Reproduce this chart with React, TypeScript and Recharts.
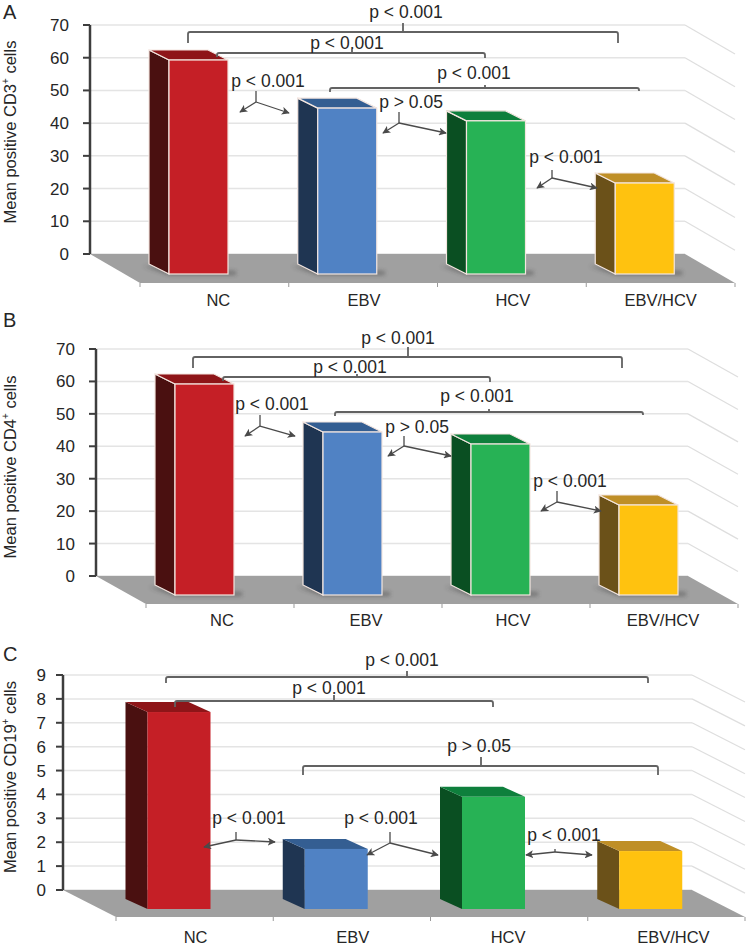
import React from "react";
import { BarChart, Bar, XAxis, YAxis, CartesianGrid } from "recharts";

const categories = ["NC", "EBV", "HCV", "EBV/HCV"];
const cd3Values = [59.3, 44.6, 40.7, 21.7];
const cd4Values = [59.2, 44.4, 40.7, 21.9];
const cd19Values = [7.45, 1.72, 3.9, 1.63];
const ticks70 = [0, 10, 20, 30, 40, 50, 60, 70];
const ticks9 = [0, 1, 2, 3, 4, 5, 6, 7, 8, 9];

const frontColors = ["#C51F26", "#5082C4", "#27B255", "#FFC20F"];
const sideColors = ["#4A1010", "#1F3552", "#0A4F22", "#6B5119"];
const topColors = ["#8E1518", "#345E92", "#0E7F3C", "#BF8F27"];

const FONT = "'Liberation Sans', Arial, sans-serif";
const TEXT = "#262626";
const LINE = "#626262";

const panels = [
  {
    id: "A", letterY: 12, cellName: "CD3", labelX: 10, labelY: 132,
    values: cd3Values, ticks: ticks70, max: 70,
    axisX: 90, wallRight: 685, yTop: 25, yZero: 254,
    floorDx: 50, floorDy: 29, barDx: 20, barDy: 10, barDrop: 20, barShift: 34, barW: 59,
    labelDx: 52, labelNudge: [2, -1, -1, -2], labelRow: 300, tickMargin: 14, edge: "#f4e6e0", shadow: true,
  },
  {
    id: "B", letterY: 320, cellName: "CD4", labelX: 10, labelY: 467,
    values: cd4Values, ticks: ticks70, max: 70,
    axisX: 96, wallRight: 688, yTop: 349, yZero: 576,
    floorDx: 50, floorDy: 28, barDx: 20, barDy: 10, barDrop: 19, barShift: 34, barW: 59,
    labelDx: 52, labelNudge: [0, -4, -5, -3], labelRow: 620, tickMargin: 14, edge: "#f4e6e0", shadow: true,
  },
  {
    id: "C", letterY: 654, cellName: "CD19", labelX: 10, labelY: 777,
    values: cd19Values, ticks: ticks9, max: 9,
    axisX: 63, wallRight: 692, yTop: 675, yZero: 890,
    floorDx: 53, floorDy: 27, barDx: 22, barDy: 10, barDrop: 19, barShift: 37.5, barW: 63,
    labelDx: 53, labelNudge: [1, 1, -1, 7], labelRow: 937, tickMargin: 10, edge: null, shadow: false,
  },
];

// brackets: [text, textX, textY, x1, x2, y, midX, midUp, dropLeft, dropRight]
const brackets = [
  ["p < 0.001", 406, 12, 188, 618, 32, 403, 9, 11, 11],
  ["p < 0.001", 347, 43, 217, 485, 53, 352, 4, 4, 5],
  ["p < 0.001", 474, 73, 330, 639, 88, 485, 3, 4, 3],
  ["p < 0.001", 398, 338, 193, 622, 357, 408, 10, 11, 11],
  ["p < 0.001", 350, 367, 223, 490, 377, 357, 3, 4, 5],
  ["p < 0.001", 477, 396, 335, 643, 412, 489, 3, 4, 3],
  ["p < 0.001", 402, 660, 166, 648, 677, 407, 6, 6, 6],
  ["p < 0.001", 329, 688, 175, 493, 701, 334, 6, 6, 6],
  ["p > 0.05", 479, 746, 303, 658, 766, 481, 9, 9, 9],
];

// forks: [text, textX, textY, tailX, tailTop, tailBottom, leftX, leftY, rightX, rightY]
const forks = [
  ["p < 0.001", 268, 81, 256, 91, 102, 240, 112, 289, 113],
  ["p > 0.05", 411, 102, 399, 112, 123, 383, 133, 446, 133],
  ["p < 0.001", 566, 157, 552, 170, 178, 537, 188, 597, 188],
  ["p < 0.001", 272, 404, 260, 415, 426, 245, 436, 295, 436],
  ["p > 0.05", 417, 427, 404, 436, 446, 388, 456, 451, 456],
  ["p < 0.001", 570, 481, 557, 491, 502, 541, 511, 601, 511],
  ["p < 0.001", 249, 818, 236, 832, 840, 204, 847, 275, 842],
  ["p < 0.001", 381, 818, 390, 832, 843, 367, 855, 438, 855],
  ["p < 0.001", 564, 835, 555, 849, 852, 526, 855, 592, 855],
];

type Panel = (typeof panels)[number];

function Backdrop({ p }: { p: Panel }) {
  const bandW = (p.wallRight - p.axisX) / categories.length;
  const frontY = p.yZero + p.floorDy;
  const span = p.yZero - p.yTop;
  return (
    <g>
      <defs>
        <filter id={`blur${p.id}`} x="-30%" y="-100%" width="160%" height="300%">
          <feGaussianBlur stdDeviation="2" />
        </filter>
      </defs>
      {p.ticks.filter((t) => t > 0).map((t) => {
        const y = p.yZero - (t / p.max) * span;
        return (
          <line key={t} x1={p.wallRight} y1={y} x2={p.wallRight + p.floorDx} y2={y + p.floorDy} stroke="#dedede" strokeWidth={1.2} />
        );
      })}
      <polygon
        points={`${p.axisX},${p.yZero} ${p.wallRight},${p.yZero} ${p.wallRight + p.floorDx},${frontY} ${p.axisX + p.floorDx},${frontY}`}
        fill="#a0a0a0"
      />
      {[0, 1, 2, 3, 4].map((i) => {
        const x = p.axisX + p.floorDx + i * bandW;
        return <line key={i} x1={x} y1={frontY} x2={x} y2={frontY + 4} stroke="#999" strokeWidth={1} />;
      })}
    </g>
  );
}

function bar3d(p: Panel) {
  return function Bar3d(props: any) {
    const { x, y, width, height, index } = props;
    const left = x + p.barShift;
    const bottom = y + height + p.barDrop;
    const dx = p.barDx;
    const dy = p.barDy;
    const stroke = p.edge ?? "none";
    const sw = p.edge ? 1.2 : 0;
    return (
      <g>
        {p.shadow && (
          <polygon
            points={`${left - dx - 6},${bottom - dy + 2} ${left},${bottom + 1} ${left + width + 8},${bottom + 1} ${left + width + 8},${bottom - 3} ${left + width},${bottom - 3}`}
            fill="#2a2a2a"
            opacity={0.4}
            filter={`url(#blur${p.id})`}
          />
        )}
        <polygon
          points={`${left - dx},${y - dy} ${left},${y} ${left},${bottom} ${left - dx},${bottom - dy}`}
          fill={sideColors[index]}
          stroke={stroke}
          strokeWidth={sw}
        />
        <polygon
          points={`${left - dx},${y - dy} ${left + width - dx},${y - dy} ${left + width},${y} ${left},${y}`}
          fill={topColors[index]}
          stroke={stroke}
          strokeWidth={sw}
        />
        <rect x={left} y={y} width={width} height={bottom - y} fill={frontColors[index]} stroke={stroke} strokeWidth={sw} />
      </g>
    );
  };
}

function categoryTick(p: Panel) {
  return function CategoryTick({ x, payload, index }: any) {
    return (
      <text x={x + p.labelDx + p.labelNudge[index]} y={p.labelRow} textAnchor="middle" dominantBaseline="central" fontFamily={FONT} fontSize={16.5} fill={TEXT}>
        {payload.value}
      </text>
    );
  };
}

function PanelChart({ p }: { p: Panel }) {
  const rows = categories.map((name, i) => ({ name, value: p.values[i] }));
  return (
    <div style={{ position: "absolute", left: 0, top: 0 }}>
      <BarChart
        width={750}
        height={945}
        data={rows}
        margin={{ top: p.yTop, right: 750 - p.wallRight, bottom: 0, left: 0 }}
      >
        <Backdrop p={p} />
        <CartesianGrid horizontal vertical={false} stroke="#e4e4e4" strokeWidth={1.5} />
        <XAxis
          dataKey="name"
          height={945 - p.yZero}
          axisLine={false}
          tickLine={false}
          interval={0}
          tick={categoryTick(p)}
        />
        <YAxis
          width={p.axisX}
          domain={[0, p.max]}
          ticks={p.ticks}
          interval={0}
          tickSize={7}
          tickMargin={p.tickMargin}
          axisLine={{ stroke: "#3d3d3d", strokeWidth: 2.5 }}
          tickLine={{ stroke: "#3d3d3d", strokeWidth: 2 }}
          tick={{ fontFamily: FONT, fontSize: 17, fill: TEXT }}
        />
        <Bar dataKey="value" barSize={p.barW} shape={bar3d(p)} isAnimationActive={false} />
      </BarChart>
    </div>
  );
}

function PText({ x, y, children }: any) {
  return (
    <text x={x} y={y} textAnchor="middle" dominantBaseline="central" fontFamily={FONT} fontSize={17.5} fill={TEXT}>
      {children}
    </text>
  );
}

function Annotations() {
  return (
    <svg width={750} height={945} style={{ position: "absolute", left: 0, top: 0 }}>
      <defs>
        <marker id="head" viewBox="0 0 10 10" refX="9" refY="5" markerWidth="8" markerHeight="8" orient="auto-start-reverse" markerUnits="userSpaceOnUse">
          <path d="M0 0 L10 5 L0 10 L2.5 5 Z" fill="#4a4a4a" />
        </marker>
      </defs>
      {panels.map((p) => (
        <g key={p.id}>
          <text x={3} y={p.letterY} dominantBaseline="central" fontFamily={FONT} fontSize={20} fill={TEXT}>
            {p.id}
          </text>
          <text
            transform={`translate(${p.labelX},${p.labelY}) rotate(-90)`}
            textAnchor="middle"
            dominantBaseline="central"
            fontFamily={FONT}
            fontSize={16.5}
            fill={TEXT}
          >
            {`Mean positive ${p.cellName}`}
            <tspan dy={-5} fontSize={10}>+</tspan>
            <tspan dy={5}> cells</tspan>
          </text>
        </g>
      ))}
      {brackets.map((b, i) => {
        const [label, tx, ty, x1, x2, y, mid, up, dl, dr] = b as [string, number, number, number, number, number, number, number, number, number];
        return (
          <g key={i}>
            <path
              d={`M${x1} ${y + dl} V${y + 2} Q${x1} ${y} ${x1 + 2} ${y} H${x2 - 2} Q${x2} ${y} ${x2} ${y + 2} V${y + dr} M${mid} ${y} V${y - up}`}
              fill="none"
              stroke={LINE}
              strokeWidth={1.8}
            />
            <PText x={tx} y={ty}>{label}</PText>
          </g>
        );
      })}
      {forks.map((f, i) => {
        const [label, tx, ty, tail, top, bot, lx, ly, rx, ry] = f as [string, number, number, number, number, number, number, number, number, number];
        return (
          <g key={i}>
            <path d={`M${tail} ${top} V${bot}`} fill="none" stroke="#4a4a4a" strokeWidth={1.3} />
            <path d={`M${tail} ${bot} L${lx} ${ly}`} fill="none" stroke="#4a4a4a" strokeWidth={1.3} markerEnd="url(#head)" />
            <path d={`M${tail} ${bot} L${rx} ${ry}`} fill="none" stroke="#4a4a4a" strokeWidth={1.3} markerEnd="url(#head)" />
            <PText x={tx} y={ty}>{label}</PText>
          </g>
        );
      })}
    </svg>
  );
}

export default function App() {
  return (
    <div style={{ position: "absolute", left: 0, top: 0, width: 750, height: 945, background: "#fff", overflow: "hidden" }}>
      {panels.map((p) => (
        <PanelChart key={p.id} p={p} />
      ))}
      <Annotations />
    </div>
  );
}
